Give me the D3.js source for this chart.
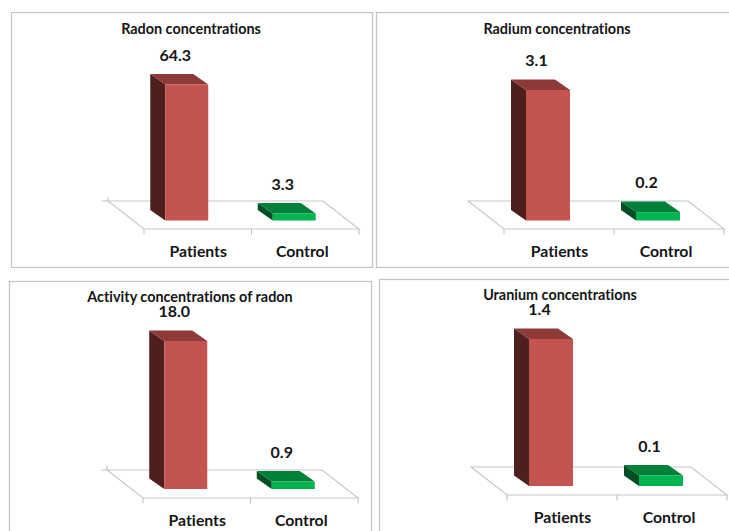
<!DOCTYPE html>
<html>
<head>
<meta charset="utf-8">
<script src="https://cdn.jsdelivr.net/npm/d3@7/dist/d3.min.js"></script>
<style>
  html, body { margin: 0; padding: 0; background: #fff; }
  svg { display: block; }
  text { font-family: Lato, "Open Sans", sans-serif; font-weight: 700; fill: #151515; text-anchor: middle; dominant-baseline: central; font-variant-ligatures: none; }
</style>
</head>
<body>
<svg id="chart" width="729" height="531"></svg>
<script>
// Measured values
const categories = ["Patients", "Control"];
const titles = ["Radon concentrations", "Radium concentrations", "Activity concentrations of radon", "Uranium concentrations"];
const patients = [64.3, 3.1, 18.0, 1.4];
const control = [3.3, 0.2, 0.9, 0.1];

// Panel geometry: frame, floor front edge, floor baseline and bar height of the tallest bar
const frames = [
  { x0: 11,  y0: 12,  x1: 372, y1: 267 },
  { x0: 376, y0: 12,  x1: 735, y1: 267 },
  { x0: 9,   y0: 281, x1: 371, y1: 540 },
  { x0: 379, y0: 279, x1: 735, y1: 540 }
];
const floors = [
  { left: 144, right: 359, front: 229, base: 220.5, backTick: true,  titleX: 191, titleY: 28 },
  { left: 504, right: 724, front: 229, base: 220.5, backTick: false, titleX: 557, titleY: 28 },
  { left: 143, right: 358, front: 498, base: 489,   backTick: true,  titleX: 190, titleY: 296.5 },
  { left: 507, right: 727, front: 495, base: 486,   backTick: false, titleX: 560, titleY: 294 }
];
const barHeights = [136, 130.5, 148, 147];

const floorDepth = { dx: -36, dy: -28 };
const barDepth = { dx: -15, dy: -10.5 };
const barColors = [
  { front: "#C4544F", top: "#8D3A38", side: "#4E1F1D" },
  { front: "#00B450", top: "#008038", side: "#004E23" }
];

const svg = d3.select("#chart");
const poly = pts => pts.map(p => p.join(",")).join(" ");

frames.forEach((frame, i) => {
  const floor = floors[i];
  const g = svg.append("g");

  g.append("rect")
    .attr("x", frame.x0 + 0.5).attr("y", frame.y0 + 0.5)
    .attr("width", frame.x1 - frame.x0).attr("height", frame.y1 - frame.y0)
    .attr("fill", "#fff").attr("stroke", "#c4c4c4").attr("stroke-width", 1.2);

  const x = d3.scaleBand().domain(categories).range([floor.left, floor.right]);
  const y = d3.scaleLinear()
    .domain([0, patients[i]])
    .range([floor.base, floor.base - barHeights[i]]);

  // Floor outline and category ticks
  const L = floor.left, R = floor.right, F = floor.front;
  const BL = L + floorDepth.dx, BR = R + floorDepth.dx, B = F + floorDepth.dy;
  g.append("polygon")
    .attr("points", poly([[L, F], [R, F], [BR, B], [BL, B]]))
    .attr("fill", "#fff").attr("stroke", "#c6c6c6").attr("stroke-width", 1.1);

  [L, L + x.step(), R].forEach(tx => {
    g.append("line")
      .attr("x1", tx).attr("x2", tx).attr("y1", F).attr("y2", F + 5.5)
      .attr("stroke", "#c0c0c0").attr("stroke-width", 1.1);
  });
  if (floor.backTick) {
    g.append("path")
      .attr("d", `M${BL - 6},${B}H${BL}V${B - 4}`)
      .attr("fill", "none").attr("stroke", "#c0c0c0").attr("stroke-width", 1.1);
  }

  // Extruded bars
  const values = [patients[i], control[i]];
  categories.forEach((cat, c) => {
    const w = x.bandwidth() * 0.4;
    const cx = x(cat) + x.bandwidth() / 2 - 11;
    const x0 = cx - w / 2, x1 = cx + w / 2;
    const top = y(values[c]), base = y(0);
    const { dx, dy } = barDepth;
    const col = barColors[c];

    g.append("polygon").attr("fill", col.side)
      .attr("points", poly([[x0, top], [x0, base], [x0 + dx, base + dy], [x0 + dx, top + dy]]));
    g.append("polygon").attr("fill", col.top)
      .attr("points", poly([[x0, top], [x1, top], [x1 + dx, top + dy], [x0 + dx, top + dy]]));
    g.append("rect").attr("fill", col.front)
      .attr("x", x0).attr("y", top).attr("width", w).attr("height", base - top);

    g.append("text")
      .attr("x", cx - 11.5).attr("y", top + dy - 20)
      .attr("font-size", 16)
      .text(values[c].toFixed(1));

    g.append("text")
      .attr("x", x(cat) + x.bandwidth() / 2 + (c === 0 ? 0.5 : -3))
      .attr("y", floor.front + 21)
      .attr("font-size", 15.8)
      .text(cat);
  });

  g.append("text")
    .attr("x", floor.titleX).attr("y", floor.titleY)
    .attr("font-size", 14.4)
    .text(titles[i]);
});
</script>
</body>
</html>
